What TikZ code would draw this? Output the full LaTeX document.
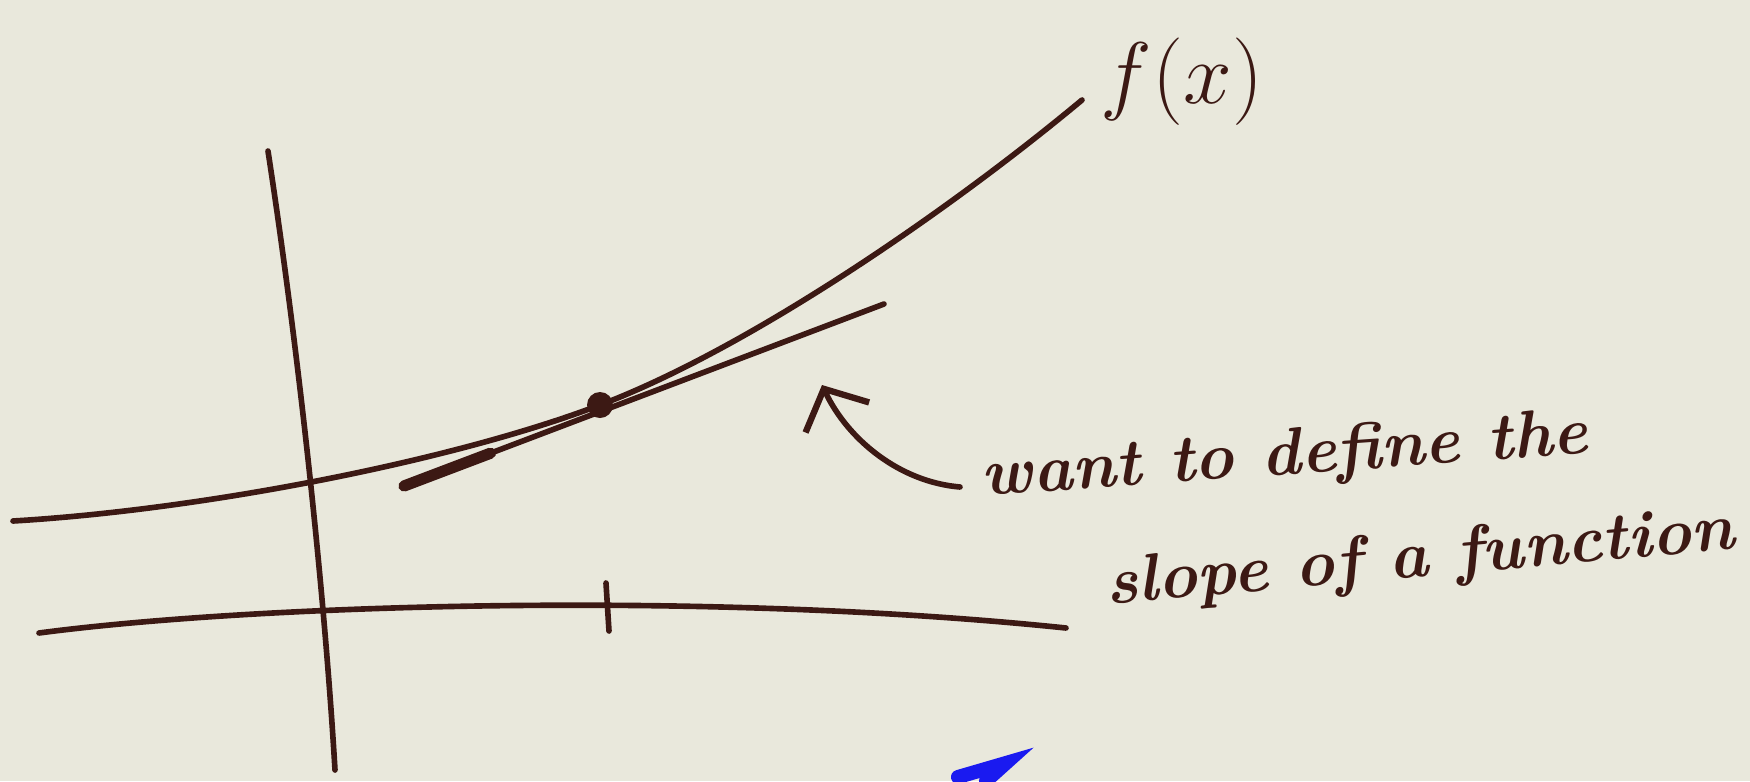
\documentclass[tikz,border=0pt]{standalone}
\usepackage{xcolor}
\usepackage{tikz}
\usetikzlibrary{arrows.meta, positioning, calc}
\definecolor{ink}{HTML}{3C1914}
\definecolor{paper}{HTML}{E9E8DC}
\definecolor{pen}{HTML}{1A1AF0}
\begin{document}
\begin{tikzpicture}[x=0.01cm, y=-0.01cm,
    inkline/.style={draw=ink, line width=1.6pt, line cap=round},
    note/.style={text=ink, font=\fontsize{19}{23}\selectfont\bfseries\itshape, inner sep=0pt}]
    % Papier
    \fill[paper] (0,0) rectangle (1750,781);
    \useasboundingbox (0,0) rectangle (1750,781);

    % Achsen
    \draw[inkline] (268,151) .. controls (300,360) and (325,600) .. (335,770);
    \draw[inkline] (39,633) .. controls (250,605) and (700,590) .. (1066,628);
    \draw[inkline] (606,583) -- (609,631);

    % Kurve f(x)
    \coordinate (pt) at (600,405);
    \draw[inkline] (13,521) .. controls (200,510) and (450,462) .. (pt)
        .. controls (750,348) and (950,210) .. (1082,100);
    \node[text=ink, font=\fontsize{27}{30}\selectfont, inner sep=0pt] (fx) at (1182,82) {$f(x)$};

    % Tangente im Punkt
    \coordinate (tanA) at (404,486);
    \coordinate (tanB) at (884,304);
    \draw[inkline] (tanA) -- (tanB);
    \draw[inkline, line width=3.2pt] (tanA) -- ($(tanA)!0.18!(tanB)$);
    \fill[ink] (pt) circle (13);

    % Hinweis
    \node[note, rotate=4] (line1) at (1285,458) {want to define the};
    \node[note, rotate=5] (line2) at (1420,560) {slope of a function};
    \coordinate (arrStart) at (960,487);
    \coordinate (arrEnd) at (822,385);
    \draw[inkline, -{Straight Barb[length=9pt, width=20pt, line width=1.8pt]}] (arrStart) .. controls (900,482) and (848,440) .. (arrEnd);

    % blaue Markierung
    \draw[pen, line width=4pt, line cap=round] (958,777) -- (1006,763) -- (986,781);
\end{tikzpicture}
\end{document}
